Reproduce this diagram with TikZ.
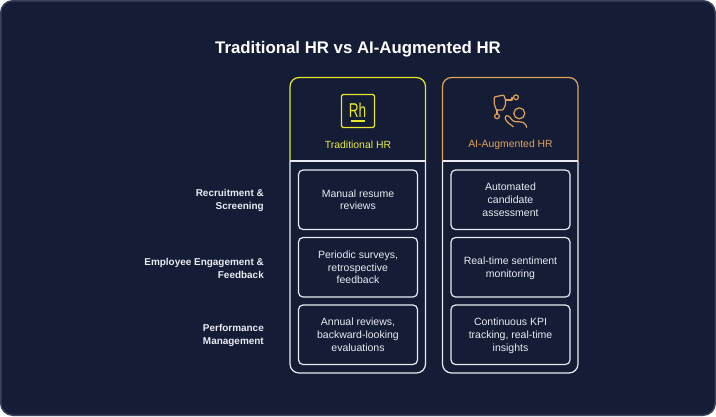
\documentclass[tikz,border=0pt]{standalone}
\usepackage{fontspec}
\setmainfont{Liberation Sans}
\usepackage{tikz}
\usetikzlibrary{calc}
\usetikzlibrary{positioning}
\definecolor{bgblue}{HTML}{141C36}
\definecolor{edgeblue}{HTML}{3A4259}
\definecolor{tradyellow}{HTML}{E8E82A}
\definecolor{aiorange}{HTML}{E0A25A}
\definecolor{softwhite}{HTML}{E9ECF2}
\tikzset{
  rowlabel/.style={text=softwhite, font=\fontsize{9.95}{12.7}\selectfont\bfseries, align=right, anchor=east, inner sep=0pt},
  cellbox/.style={draw=softwhite, line width=1.2pt, rounded corners=4.5pt, minimum width=119pt, minimum height=59.5pt, inner sep=0pt, outer sep=0pt, text=softwhite, font=\fontsize{10.5}{12.7}\selectfont, align=center, text depth=0pt},
  headlabel/.style={font=\fontsize{10.4}{12}\selectfont, inner sep=0pt},
  panelline/.style={line width=1.2pt, rounded corners=9pt}
}
\begin{document}
\begin{tikzpicture}[x=1pt, y=-1pt]
  \useasboundingbox (0,0) rectangle (716,416);
  % page
  \fill[white] (0,0) rectangle (716,416);
  \draw[fill=bgblue, draw=edgeblue, line width=1.5pt, rounded corners=12pt] (0.75,0.75) rectangle (715.25,415.25);
  \node[text=white, font=\fontsize{16.8}{20}\selectfont\bfseries, inner sep=0pt] (title) at (358,49) {Traditional HR vs AI-Augmented HR};

  % left column
  \draw[panelline, softwhite] (290,161) -- (290,373) -- (425.5,373) -- (425.5,161);
  \draw[panelline, tradyellow] (290,161) -- (290,77.5) -- (425.5,77.5) -- (425.5,161);
  \draw[softwhite, line width=1.2pt] (290,161) -- (425.5,161);
  \node[cellbox] (manual) at (358,199.75) {Manual resume\\reviews};
  \node[cellbox, below=8pt of manual] (periodic) {Periodic surveys,\\retrospective\\feedback};
  \node[cellbox, below=8pt of periodic] (annual) {Annual reviews,\\backward-looking\\evaluations};
  \node[headlabel, text=tradyellow!85!white] (tradhead) at (358,145) {Traditional HR};

  % right column
  \draw[panelline, softwhite] (442.5,161) -- (442.5,373) -- (578,373) -- (578,161);
  \draw[panelline, aiorange] (442.5,161) -- (442.5,77.5) -- (578,77.5) -- (578,161);
  \draw[softwhite, line width=1.2pt] (442.5,161) -- (578,161);
  \node[cellbox, right=33.5pt of manual] (automated) {Automated\\candidate\\assessment};
  \node[cellbox, below=8pt of automated] (sentiment) {Real-time sentiment\\monitoring};
  \node[cellbox, below=8pt of sentiment] (kpi) {Continuous KPI\\tracking, real-time\\insights};
  \node[headlabel, text=aiorange] (aihead) at (510.5,145) {AI-Augmented HR};

  % row labels
  \node[rowlabel] (recruit) at (264,200.75) {Recruitment \&\\Screening};
  \node[rowlabel] (engage) at (264,268.25) {Employee Engagement \&\\Feedback};
  \node[rowlabel] (perform) at (264,335.75) {Performance\\Management};

  % Rh icon
  \draw[tradyellow, line width=1.2pt, rounded corners=1.5pt] (341.5,94.5) rectangle (374.5,127.5);
  \node[text=tradyellow, font=\fontsize{20}{20}\selectfont, inner sep=0pt] (rh) at (357.5,110.5) {\scalebox{0.68}[1]{Rh}};
  \draw[tradyellow, line width=1.2pt] (350.5,121) -- (365,121);

  % AI icon
  \begin{scope}[aiorange, line width=1.2pt, line cap=round, line join=round]
    \draw[rounded corners=0.8pt] (494.3,97) -- (503.7,95) -- (505.5,99.7) -- (505.5,104.7) -- (503,110) -- (496.3,110) -- (494.3,104) -- cycle;
    \draw (505.5,100) -- (512,100) -- (512,97.3) -- (513.5,97.3);
    \draw (516,97.3) circle (2.4);
    \draw (497,110) -- (497,113.8);
    \draw (497,116.3) circle (2.4);
    \draw (519.3,113.3) circle (5.5);
    \draw[rounded corners=2.5pt] (526.7,127.3) -- (525.3,123.3) -- (520.7,121.7) -- (513.3,121.7) -- (508.3,115) -- (504.3,116.7) -- (506.7,121.7) -- (513.3,126.7);
  \end{scope}
\end{tikzpicture}
\end{document}
